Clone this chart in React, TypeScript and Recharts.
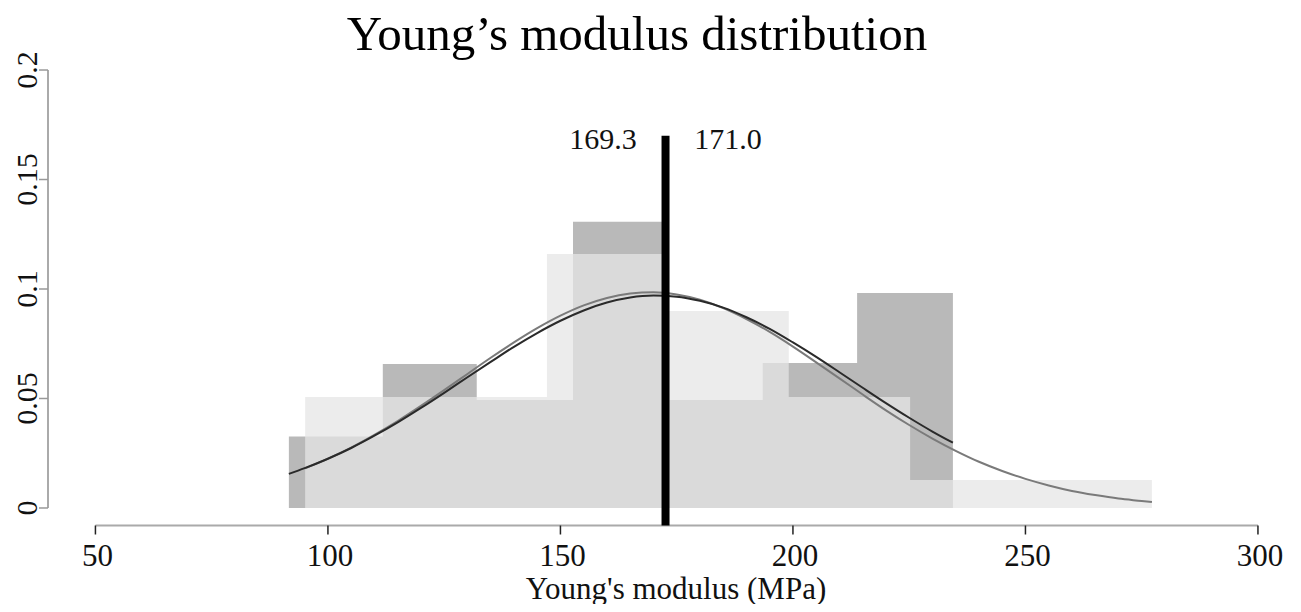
import { Area, ComposedChart, Line, ReferenceLine, XAxis, YAxis } from 'recharts';

// histogram bin edges (MPa) and heights
const darkEdges = [91.6, 111.8, 132.0, 152.7, 172.9, 193.5, 213.8, 234.4];
const darkDensity = [0.0326, 0.0658, 0.0493, 0.1307, 0.0493, 0.0662, 0.0982];
const lightEdges = [95.1, 121.1, 147.1, 172.9, 199.1, 225.2, 251.2, 277.2];
const lightDensity = [0.0507, 0.0507, 0.116, 0.09, 0.0507, 0.0128, 0.0128];

// fitted curves
const darkFitX = [
  91.6, 95, 100, 105, 110, 115, 120, 125, 130, 135, 140, 145, 150, 155, 160, 165, 170, 175,
  180, 185, 190, 195, 200, 205, 210, 215, 220, 225, 230, 234.4,
];
const darkFit = [
  0.0156, 0.0182, 0.0225, 0.0274, 0.033, 0.0391, 0.0457, 0.0526, 0.0597, 0.0667, 0.0736,
  0.0799, 0.0855, 0.0902, 0.0938, 0.0961, 0.097, 0.0965, 0.0946, 0.0915, 0.0871, 0.0818,
  0.0756, 0.069, 0.062, 0.0549, 0.0479, 0.0412, 0.0349, 0.0298,
];
const lightFitX = [
  95.1, 100, 105, 110, 115, 120, 125, 130, 135, 140, 145, 150, 155, 160, 165, 170, 175, 180,
  185, 190, 195, 200, 205, 210, 215, 220, 225, 230, 235, 240, 245, 250, 255, 260, 265, 270,
  275, 277.2,
];
const lightFit = [
  0.0181, 0.0225, 0.0276, 0.0334, 0.0397, 0.0466, 0.0538, 0.0612, 0.0686, 0.0756, 0.0821,
  0.0878, 0.0925, 0.0959, 0.0979, 0.0985, 0.0975, 0.0951, 0.0913, 0.0863, 0.0804, 0.0737,
  0.0665, 0.0592, 0.0518, 0.0446, 0.0379, 0.0317, 0.0261, 0.0211, 0.0169, 0.0133, 0.0103,
  0.0078, 0.0059, 0.0043, 0.0032, 0.0027,
];

const xTicks = [50, 100, 150, 200, 250, 300];
const yTicks = [0, 0.05, 0.1, 0.15, 0.2];
const markerX = 172.6;
const markerTop = 0.17;
const leftLabel = '169.3';
const rightLabel = '171.0';

const FONT = '"Liberation Serif", "Times New Roman", serif';

type Key = 'dark' | 'light' | 'darkFit' | 'lightFit';
type Row = { x: number } & Partial<Record<Key, number>>;

function buildRows(): Row[] {
  const rows = new Map<number, Row>();
  const put = (x: number, key: Key, v: number) => {
    const r = rows.get(x) ?? { x };
    r[key] = v;
    rows.set(x, r);
  };
  darkEdges.forEach((x, i) => put(x, 'dark', darkDensity[Math.min(i, darkDensity.length - 1)]));
  lightEdges.forEach((x, i) => put(x, 'light', lightDensity[Math.min(i, lightDensity.length - 1)]));
  darkFitX.forEach((x, i) => put(x, 'darkFit', darkFit[i]));
  lightFitX.forEach((x, i) => put(x, 'lightFit', lightFit[i]));
  return [...rows.values()].sort((a, b) => a.x - b.x);
}

const data = buildRows();

const XTick = ({ x, y, payload }: any) => (
  <text x={x + 2} y={y} dy={29.5} textAnchor="middle" fontFamily={FONT} fontSize={31} fill="#111">
    {payload.value}
  </text>
);

const YTick = ({ x, y, payload }: any) => (
  <text
    transform={`translate(${x},${y}) rotate(-90)`}
    textAnchor="middle"
    fontFamily={FONT}
    fontSize={30}
    fill="#111"
  >
    {payload.value}
  </text>
);

export default function App() {
  return (
    <div style={{ position: 'relative', width: 1285, height: 596 }}>
      <ComposedChart
        width={1285}
        height={596}
        data={data}
        margin={{ top: 44.5, right: 11.8, bottom: 0, left: 0 }}
      >
        <XAxis
          type="number"
          dataKey="x"
          domain={[39.8, 305]}
          ticks={xTicks}
          interval={0}
          height={78.5}
          axisLine={false}
          tickSize={9}
          tickLine={{ stroke: '#222', strokeWidth: 1.5 }}
          tick={<XTick />}
        />
        <YAxis
          type="number"
          domain={[-0.008, 0.208]}
          ticks={yTicks}
          interval={0}
          width={40}
          axisLine={false}
          tickSize={9}
          tickLine={{ stroke: '#999', strokeWidth: 1.5 }}
          tick={<YTick />}
        />
        <Area
          dataKey="dark"
          type="stepAfter"
          baseValue={0}
          connectNulls
          stroke="none"
          fill="#b9b9b9"
          fillOpacity={1}
          dot={false}
          activeDot={false}
          isAnimationActive={false}
        />
        <Area
          dataKey="light"
          type="stepAfter"
          baseValue={0}
          connectNulls
          stroke="none"
          fill="#e5e5e5"
          fillOpacity={0.74}
          dot={false}
          activeDot={false}
          isAnimationActive={false}
        />
        <Line
          dataKey="lightFit"
          type="monotone"
          connectNulls
          stroke="#7a7a7a"
          strokeWidth={2}
          dot={false}
          activeDot={false}
          isAnimationActive={false}
        />
        <Line
          dataKey="darkFit"
          type="monotone"
          connectNulls
          stroke="#2a2a2a"
          strokeWidth={2}
          dot={false}
          activeDot={false}
          isAnimationActive={false}
        />
        <ReferenceLine
          segment={[
            { x: 50, y: -0.008 },
            { x: 300, y: -0.008 },
          ]}
          ifOverflow="visible"
          stroke="#aaa"
          strokeWidth={2}
        />
        <ReferenceLine
          segment={[
            { x: 39.8, y: 0 },
            { x: 39.8, y: 0.2 },
          ]}
          ifOverflow="visible"
          stroke="#aaa"
          strokeWidth={2}
        />
        <ReferenceLine
          segment={[
            { x: markerX, y: -0.008 },
            { x: markerX, y: markerTop },
          ]}
          ifOverflow="visible"
          stroke="#000"
          strokeWidth={8}
        />
      </ComposedChart>
      <svg
        width={1285}
        height={596}
        style={{ position: 'absolute', left: 0, top: 0, pointerEvents: 'none', overflow: 'visible' }}
      >
        <text x={629} y={42} textAnchor="middle" fontFamily={FONT} fontSize={49} fill="#000">
          Young’s modulus distribution
        </text>
        <text x={668} y={591} textAnchor="middle" fontFamily={FONT} fontSize={31} fill="#111">
          Young's modulus (MPa)
        </text>
        <text x={595} y={141} textAnchor="middle" fontFamily={FONT} fontSize={30} fill="#111">
          {leftLabel}
        </text>
        <text x={720} y={141} textAnchor="middle" fontFamily={FONT} fontSize={30} fill="#111">
          {rightLabel}
        </text>
      </svg>
    </div>
  );
}
